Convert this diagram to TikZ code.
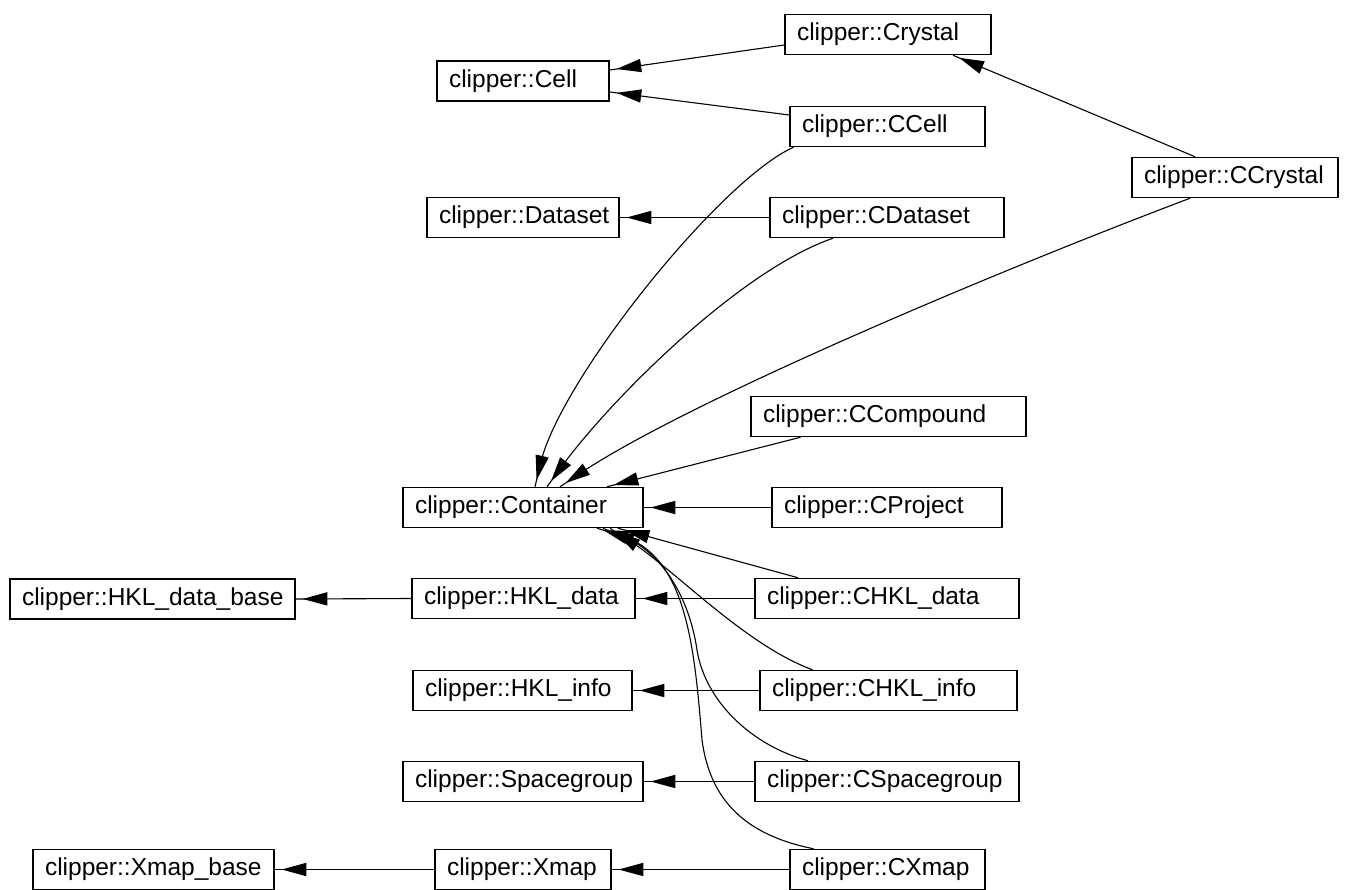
\documentclass[tikz,border=0pt]{standalone}
\usepackage{fontspec}
\setmainfont{Liberation Sans}
\usetikzlibrary{arrows.meta}
\pgfdeclarearrow{
  name = GV,
  setup code = {
    \pgfarrowssettipend{0pt}
    \pgfarrowssetlineend{-24pt}
    \pgfarrowssetvisualbackend{-31pt}
    \pgfarrowssetbackend{-31pt}
    \pgfarrowshullpoint{0pt}{0pt}
    \pgfarrowshullpoint{-31pt}{6.5pt}
    \pgfarrowshullpoint{-31pt}{-6.5pt}
  },
  drawing code = {
    \pgfsetmiterjoin
    \pgfpathmoveto{\pgfqpoint{-9pt}{0pt}}
    \pgfpathlineto{\pgfqpoint{-31pt}{6pt}}
    \pgfpathlineto{\pgfqpoint{-31pt}{-6pt}}
    \pgfpathclose
    \pgfusepathqfillstroke
    \pgfpathmoveto{\pgfqpoint{0pt}{0pt}}
    \pgfpathlineto{\pgfqpoint{-11pt}{0pt}}
    \pgfusepathqstroke
  }
}
\tikzset{
  clsbox/.style={draw, line width=1.5pt, inner xsep=12pt, inner ysep=0pt,
    minimum height=40pt, font=\fontsize{24.5}{28}\selectfont, anchor=center},
  inh/.style={line width=1.1pt, -{GV}},
}
\newcommand\clsnode[5]{\node[clsbox] (#1) at (#2,#3) {\makebox[#4pt][l]{#5}};}
\begin{document}
\begin{tikzpicture}[x=1pt,y=-1pt]
\useasboundingbox (0,0) rectangle (1356,890);
\clsnode{crystal}{888}{34.5}{182}{clipper::Crystal}
\clsnode{cell}{523}{81}{148}{clipper::Cell}
\clsnode{ccell}{887.5}{126.5}{171}{clipper::CCell}
\clsnode{ccrystal}{1235}{177.5}{182}{clipper::CCrystal}
\clsnode{dataset}{523}{217.5}{168}{clipper::Dataset}
\clsnode{cdataset}{887}{217.5}{210}{clipper::CDataset}
\clsnode{ccompound}{888.5}{416.5}{251}{clipper::CCompound}
\clsnode{container}{523}{507.5}{216}{clipper::Container}
\clsnode{cproject}{887}{507.5}{206}{clipper::CProject}
\clsnode{hkldatabase}{152.5}{599}{261}{clipper::HKL\_data\_base}
\clsnode{hkldata}{523.5}{598.5}{199}{clipper::HKL\_data}
\clsnode{chkldata}{887}{598.5}{240}{clipper::CHKL\_data}
\clsnode{hklinfo}{522.5}{690.5}{195}{clipper::HKL\_info}
\clsnode{chklinfo}{888.5}{690.5}{233}{clipper::CHKL\_info}
\clsnode{spacegroup}{523}{781.5}{216}{clipper::Spacegroup}
\clsnode{cspacegroup}{887}{781.5}{240}{clipper::CSpacegroup}
\clsnode{xmapbase}{153.5}{869.5}{217}{clipper::Xmap\_base}
\clsnode{xmap}{523}{869.5}{152}{clipper::Xmap}
\clsnode{cxmap}{887.5}{869.5}{171}{clipper::CXmap}

\coordinate (sgvia) at (697,650);
\coordinate (xmvia) at (702,740);

\draw[inh] ([yshift=-10.5pt]crystal.west) -- ([yshift=11pt]cell.east);
\draw[inh] ([yshift=11.5pt]ccell.west) -- ([yshift=-11pt]cell.east);
\draw[inh] ([xshift=-40pt]ccrystal.north) -- ([xshift=65pt]crystal.south);
\draw[inh] (cdataset.west) -- (dataset.east);
\draw[inh] ([xshift=-94pt]ccell.south) .. controls (720,180) and (560,380) .. ([xshift=12pt]container.north);
\draw[inh] ([xshift=-54pt]cdataset.south) .. controls (740,270) and (610,400) .. ([xshift=24pt]container.north);
\draw[inh] ([xshift=-45pt]ccrystal.south) .. controls (1000,270) and (690,400) .. ([xshift=37pt]container.north);
\draw[inh] ([xshift=-88pt]ccompound.south) -- ([xshift=84pt]container.north);
\draw[inh] (cproject.west) -- (container.east);
\draw[inh] ([xshift=-89pt]chkldata.north) -- ([xshift=95pt]container.south);
\draw[inh] (chkldata.west) -- (hkldata.east);
\draw[inh] (hkldata.west) -- (hkldatabase.east);
\draw[inh] ([xshift=-76pt]chklinfo.north) .. controls (745,645) and (675,570) .. ([xshift=87pt]container.south);
\draw[inh] (chklinfo.west) -- (hklinfo.east);
\draw[inh] ([xshift=-79pt]cspacegroup.north) .. controls (750,745) and (705,700) .. (sgvia) .. controls (689,595) and (660,552) .. ([xshift=80pt]container.south);
\draw[inh] (cspacegroup.west) -- (spacegroup.east);
\draw[inh] ([xshift=-74pt]cxmap.north) .. controls (745,835) and (710,800) .. (xmvia) .. controls (694,640) and (685,555) .. ([xshift=74pt]container.south);
\draw[inh] (cxmap.west) -- (xmap.east);
\draw[inh] (xmap.west) -- (xmapbase.east);
\end{tikzpicture}
\end{document}
